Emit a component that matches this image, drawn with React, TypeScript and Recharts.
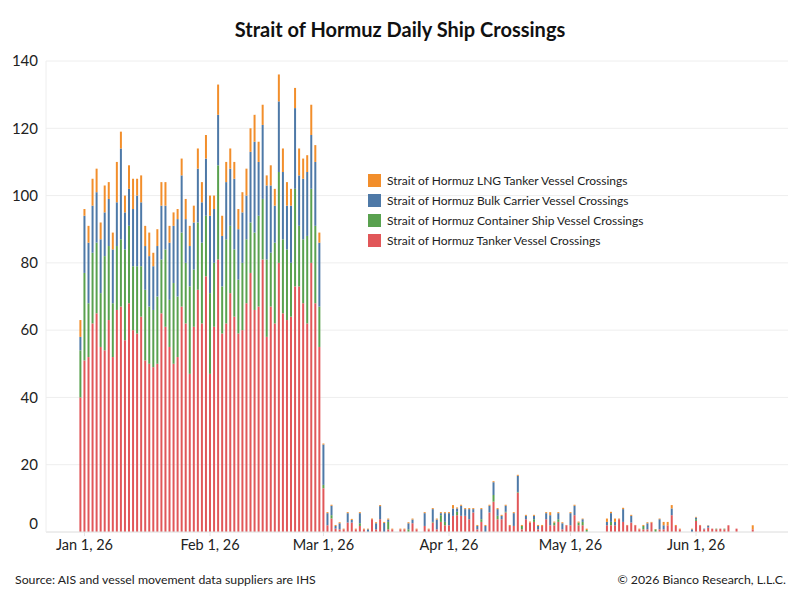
import { Bar, BarChart, CartesianGrid, Legend, XAxis, YAxis } from 'recharts';

// one value per day, Dec 31 2025 .. Jun 15 2026 (x = days since Jan 1, 26)
const FIRST_DAY = -1;

const tanker = [
  40,
  // Jan
  51, 52, 62, 65, 55, 54, 63, 52, 66, 67, 57, 68, 60, 59, 64, 51, 50, 49, 50, 65, 61, 55, 50, 52, 67, 62, 47, 61, 72, 62, 76,
  // Feb
  47, 61, 81, 59, 62, 71, 64, 59, 60, 68, 77, 66, 67, 81, 58, 67, 62, 80, 65, 63, 64, 73, 73, 68, 62, 80, 68, 55,
  // Mar
  13, 2, 4, 1, 0.8, 0.8, 2.8, 2.8, 0.8, 1.8, 0.8, 0, 3.8, 0.8, 3.8, 0, 0.8, 0.8, 0, 0.8, 0.8, 0, 2.6, 0.8, 0, 1.8, 0.8, 2.8, 0.8, 3, 2,
  // Apr
  2, 4.8, 5, 4.8, 4.8, 3.8, 5.8, 0.8, 3, 0, 5.8, 9, 3.8, 3.8, 5.8, 1.8, 1.8, 11.7, 0.8, 3.8, 2.8, 3, 0.8, 1.8, 3.8, 2, 2, 3, 0.8, 2,
  // May
  2, 5, 2, 2, 0, 0, 0, 0, 0, 2, 2, 2, 3.8, 3, 2, 2.8, 2, 0.8, 0.8, 0.8, 2.8, 0, 0.8, 0.8, 2, 5, 1.8, 0.8, 0, 0, 0,
  // Jun
  3.3, 2, 0.8, 1.3, 1, 0.8, 1, 0.8, 2, 0, 1, 0, 0, 0, 0.8,
];

const container = [
  14,
  26, 16, 21, 21, 16, 28, 22, 16, 19, 20, 27, 23, 19, 20, 15, 21, 17, 17, 20, 16, 23, 14, 24, 18, 22, 18, 26, 17, 20, 24, 18,
  24, 19, 28, 14, 25, 20, 20, 16, 20, 19, 15, 23, 27, 18, 23, 16, 24, 27, 22, 21, 16, 29, 18, 19, 26, 22, 23, 12,
  1, 0, 1, 0, 0, 0, 0, 0, 0, 0.8, 0, 0, 0, 0, 0, 0, 2.2, 0, 0, 0, 0, 0.8, 0, 0, 0, 0, 0, 0.2, 0, 2, 1,
  0, 0, 1, 0, 0, 0, 0, 0, 0.8, 0, 0, 2, 1, 0, 0.2, 0, 0, 0.2, 1, 0, 0, 0.8, 0, 0, 0, 0, 0.8, 0.8, 0, 0,
  0, 0, 0.8, 1, 0.6, 0, 0, 0, 0, 0, 1, 0, 0, 0, 0, 0, 0, 0, 1, 0, 0, 0.8, 0, 0, 0, 0, 0, 0, 0, 0, 0,
  0.5, 0, 0, 0, 0, 0.2, 0, 0.2, 0, 0, 0, 0, 0, 0, 0,
];

const bulk = [
  4,
  17, 18, 14, 15, 16, 13, 14, 16, 13, 27, 11, 11, 17, 21, 19, 13, 15, 13, 15, 16, 13, 17, 17, 23, 17, 13, 12, 14, 16, 12, 17,
  23, 16, 15, 15, 17, 17, 21, 15, 15, 13, 21, 27, 16, 22, 22, 20, 11, 21, 20, 13, 17, 24, 15, 18, 19, 16, 19, 19,
  12, 3.6, 2.8, 0.8, 1.8, 0, 2.8, 0.8, 0, 3, 0, 0.8, 0, 1.8, 3.9, 2.7, 0.7, 0, 0, 0, 0, 1.8, 1.1, 0, 0, 3.8, 0, 3.8, 2.9, 0.6, 2.6,
  3.6, 2.2, 1, 3, 2, 3, 1, 1, 3, 1.8, 2, 3.8, 2, 1, 1.8, 0, 3.8, 4.8, 0, 1, 0, 1, 1, 0, 1.8, 3, 0, 1.8, 1.8, 0,
  3.6, 2.8, 0, 0.8, 0, 0, 0, 0, 0, 1, 2.6, 1, 0, 3.8, 0, 2, 0, 0, 0, 1.8, 0, 0, 3, 1.2, 0, 2, 0, 0, 0, 0, 0.8,
  0.5, 0, 0.2, 0.6, 0, 0, 0, 0, 0, 0, 0, 0, 0, 0, 0,
];

const lng = [
  5,
  2, 5, 8, 7, 5, 8, 5, 5, 12, 5, 5, 7, 9, 5, 8, 6, 7, 4, 5, 7, 7, 5, 4, 3, 5, 6, 6, 5, 6, 6, 7,
  6, 4, 9, 6, 6, 6, 5, 6, 6, 8, 7, 8, 6, 6, 3, 6, 5, 8, 7, 7, 5, 6, 8, 6, 5, 9, 5, 3,
  0.3, 0.3, 0.3, 0.3, 0.3, 0.2, 0.3, 0.3, 0.2, 0.3, 0.2, 0.2, 0.2, 0.3, 0.3, 0.3, 0.3, 0.2, 0, 0.2, 0.2, 0.3, 0.3, 0.2, 0, 0.3, 0.2, 0.3, 0.3, 0.3, 0.3,
  0.3, 1, 0.3, 0.3, 0.3, 0.3, 0.3, 0.3, 0.3, 0.3, 0.3, 0.3, 0.3, 0.3, 0.3, 0.3, 0.3, 0.3, 0.3, 0.3, 0.3, 0.3, 0.3, 0.3, 0.3, 0.9, 0.3, 0.3, 0.3, 0.1,
  0.3, 0.3, 0.3, 0.2, 0.4, 0, 0, 0, 0, 1, 0.4, 1, 0.2, 0.4, 0.1, 0.3, 0.1, 0.2, 0.3, 0.3, 0.2, 0.1, 0.2, 1, 1, 1, 0.3, 0.2, 0, 0, 0.2,
  0.2, 0.1, 0, 0.1, 0, 0, 0, 0, 0, 0, 0, 0, 0, 0, 1.2,
];

const monthTicks = [0, 31, 59, 90, 120, 151];
const monthLabels = ['Jan 1, 26', 'Feb 1, 26', 'Mar 1, 26', 'Apr 1, 26', 'May 1, 26', 'Jun 1, 26'];
const yTicks = [0, 20, 40, 60, 80, 100, 120, 140];

// stacking order, bottom to top
const series = [
  { key: 'tanker', name: 'Strait of Hormuz Tanker Vessel Crossings', color: '#E15759' },
  { key: 'container', name: 'Strait of Hormuz Container Ship Vessel Crossings', color: '#59A14F' },
  { key: 'bulk', name: 'Strait of Hormuz Bulk Carrier Vessel Crossings', color: '#4E79A7' },
  { key: 'lng', name: 'Strait of Hormuz LNG Tanker Vessel Crossings', color: '#F28E2B' },
];

const data = tanker.map((t, i) => ({
  day: FIRST_DAY + i,
  tanker: t,
  container: container[i],
  bulk: bulk[i],
  lng: lng[i],
}));

const FONT = 'Lato, "Open Sans", sans-serif';

// legend lists the top of the stack first
const renderLegend = () => (
  <div style={{ fontFamily: FONT, fontSize: 12, color: '#222' }}>
    {[...series].reverse().map((s) => (
      <div key={s.key} style={{ display: 'flex', alignItems: 'center', height: 20 }}>
        <span style={{ width: 13, height: 13, background: s.color, marginRight: 6 }} />
        <span>{s.name}</span>
      </div>
    ))}
  </div>
);

// eslint-disable-next-line @typescript-eslint/no-explicit-any
const YTick = (props: any) => {
  const { x, y, payload } = props;
  const dy = payload.value === 0 ? -8 : 0;
  return (
    <text x={x} y={y + dy} dy="0.35em" textAnchor="end" fontSize={15} fill="#222" fontFamily={FONT}>
      {payload.value}
    </text>
  );
};

export default function App() {
  return (
    <div
      style={{
        position: 'absolute',
        left: 0,
        top: 0,
        width: 800,
        height: 600,
        background: '#fff',
        fontFamily: FONT,
      }}
    >
      <div
        style={{
          position: 'absolute',
          top: 17,
          width: 800,
          textAlign: 'center',
          fontSize: 20,
          fontWeight: 700,
          color: '#111',
        }}
      >
        Strait of Hormuz Daily Ship Crossings
      </div>
      <BarChart
        width={800}
        height={600}
        data={data}
        margin={{ top: 61, right: 12, bottom: 38, left: 0 }}
        barGap={0}
      >
        <CartesianGrid stroke="#eeeeee" vertical={false} />
        <XAxis
          dataKey="day"
          type="number"
          domain={[-9.5, 173.7]}
          allowDataOverflow
          ticks={monthTicks}
          tickFormatter={(v: number) => monthLabels[monthTicks.indexOf(v)] ?? ''}
          interval={0}
          height={30}
          stroke="#e4e4e4"
          tickSize={4}
          tickMargin={4}
          tick={{ fontSize: 14.5, fill: '#222', fontFamily: FONT }}
        />
        <YAxis
          domain={[0, 140]}
          ticks={yTicks}
          width={46}
          stroke="#eeeeee"
          tickLine={false}
          tick={<YTick />}
        />
        <Legend
          layout="vertical"
          align="center"
          verticalAlign="middle"
          content={renderLegend}
          wrapperStyle={{ left: 368, top: 170, width: 320 }}
        />
        {series.map((s) => (
          <Bar
            key={s.key}
            dataKey={s.key}
            name={s.name}
            stackId="a"
            fill={s.color}
            barSize={2}
            isAnimationActive={false}
          />
        ))}
      </BarChart>
      <div style={{ position: 'absolute', left: 15, top: 572, fontSize: 12.3, color: '#222' }}>
        Source: AIS and vessel movement data suppliers are IHS
      </div>
      <div style={{ position: 'absolute', right: 14, top: 572, fontSize: 12.3, color: '#222' }}>
        © 2026 Bianco Research, L.L.C.
      </div>
    </div>
  );
}
